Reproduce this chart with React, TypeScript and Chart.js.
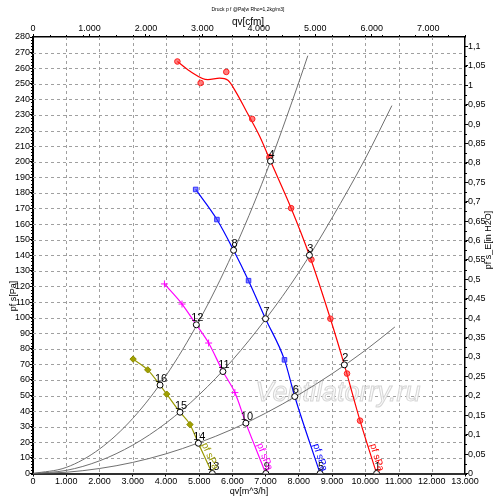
import React, { useEffect, useRef } from 'react';
import { Chart, registerables } from 'chart.js';

Chart.register(...registerables);

const FONT = '"Liberation Sans", Arial, sans-serif';

// ---- text ----
const TITLE = 'Druck p f @Pa[w Rho=1,2kg/m3]';
const X_TITLE = 'qv[m^3/h]';
const X2_TITLE = 'qv[cfm]';
const Y_TITLE = 'pf s[Pa]';
const Y2_TITLE = 'pf s_E[in H2O]';
const FAN_LABEL = 'pf sPa';
const WATERMARK = 'Ventilatorry.ru';

// ---- axes ----
const X_MAX = 13000;
const Y_MAX = 280;
const CFM_PER_M3H = 0.588578;
const PA_PER_INH2O = 249.089;
const X_TICKS = [0, 1000, 2000, 3000, 4000, 5000, 6000, 7000, 8000, 9000, 10000, 11000, 12000, 13000];
const X2_TICKS = [0, 1000, 2000, 3000, 4000, 5000, 6000, 7000];
const Y_TICKS = [0, 10, 20, 30, 40, 50, 60, 70, 80, 90, 100, 110, 120, 130, 140, 150, 160, 170, 180, 190, 200, 210, 220, 230, 240, 250, 260, 270, 280];
const Y2_TICKS = [0, 0.05, 0.1, 0.15, 0.2, 0.25, 0.3, 0.35, 0.4, 0.45, 0.5, 0.55, 0.6, 0.65, 0.7, 0.75, 0.8, 0.85, 0.9, 0.95, 1, 1.05, 1.1];

// ---- fan curves (fitted lines) ----
const RED_CURVE_Q = [4345, 4715, 5265, 5616, 5866, 6117, 6417, 6817, 7147, 7768, 8318, 8949, 9369, 9841, 10340];
const RED_CURVE_P = [264.3, 258.2, 252.6, 253.6, 252.2, 244.3, 232.5, 216.5, 200.4, 170.2, 140, 99.3, 69.7, 33.9, 0];
const BLUE_CURVE_Q = [4895, 5535, 6036, 6486, 6997, 7568, 7877, 8639];
const BLUE_CURVE_P = [182.2, 162.9, 143.2, 123.7, 99.3, 72.9, 49.4, 0];
const MAGENTA_CURVE_Q = [3955, 4484, 4915, 5285, 5715, 6075, 6406, 7006];
const MAGENTA_CURVE_P = [121.6, 108.7, 95.4, 83.7, 65.4, 51.9, 32.3, 0];
const OLIVE_CURVE_Q = [3012, 3453, 3823, 4024, 4424, 4724, 4976, 5396];
const OLIVE_CURVE_P = [73.4, 66.5, 56.7, 50.9, 39.3, 31.4, 19.4, 0];

// ---- measured markers ----
const RED_MARK_Q = [4345, 5045, 5817, 6598, 7117, 7768, 8378, 8949, 9450, 9841];
const RED_MARK_P = [264.3, 250.5, 257.6, 227.4, 203, 170.2, 137.2, 99.3, 64.1, 33.9];
const BLUE_MARK_Q = [4895, 5535, 6486, 7568];
const BLUE_MARK_P = [182.2, 162.9, 123.7, 72.9];
const MAGENTA_MARK_Q = [3955, 4484, 5285, 6075];
const MAGENTA_MARK_P = [121.6, 108.7, 83.7, 51.9];
const OLIVE_MARK_Q = [3012, 3453, 4024, 4724];
const OLIVE_MARK_P = [73.4, 66.5, 50.9, 31.4];

// ---- system curves ----
const SYS_A_Q = [0, 1000, 2000, 3000, 4000, 5000, 6000, 7000, 8000, 8270];
const SYS_A_P = [0, 3.9, 15.7, 35.3, 62.7, 98, 141, 192, 251, 268];
const SYS_B_Q = [0, 1000, 2000, 3000, 4000, 5000, 6000, 7000, 8000, 9000, 10000, 10800];
const SYS_B_P = [0, 2, 8.1, 18.2, 32.3, 50.5, 72.7, 99, 129, 164, 202, 236];
const SYS_C_Q = [0, 1000, 2000, 3000, 4000, 5000, 6000, 7000, 8000, 9000, 10000, 10890];
const SYS_C_P = [0, 0.8, 3.2, 7.1, 12.6, 19.8, 28.4, 38.7, 50.6, 64, 79, 94];

// ---- operating points ----
const OP_LABELS = ['1', '2', '3', '4', '5', '6', '7', '8', '9', '10', '11', '12', '13', '14', '15', '16'];
const OP_Q = [10340, 9369, 8318, 7147, 8639, 7877, 6997, 6036, 7006, 6406, 5715, 4915, 5396, 4976, 4424, 3823];
const OP_P = [0, 69.7, 140, 200.4, 0, 49.4, 99.3, 143.2, 0, 32.3, 65.4, 95.4, 0, 19.4, 39.3, 56.7];

const zip = (q: number[], p: number[]) => q.map((v, i) => ({ x: v, y: p[i] }));

const fmtThousands = (v: number) => {
  const n = Math.round(v);
  if (n < 1000) return String(n);
  return Math.floor(n / 1000) + '.' + String(n % 1000).padStart(3, '0');
};

const FANS = [
  { q: RED_CURVE_Q, p: RED_CURVE_P, color: '#ff0000' },
  { q: BLUE_CURVE_Q, p: BLUE_CURVE_P, color: '#0000ff' },
  { q: MAGENTA_CURVE_Q, p: MAGENTA_CURVE_P, color: '#ff00ff' },
  { q: OLIVE_CURVE_Q, p: OLIVE_CURVE_P, color: '#999900' },
];

const overlay = {
  id: 'overlay',
  beforeDatasetsDraw(chart: any) {
    const ctx = chart.ctx;
    const a = chart.chartArea;
    const xs = chart.scales.x;
    const ys = chart.scales.y;

    // dashed grid drawn as small filled dashes
    ctx.save();
    ctx.fillStyle = '#a0a0a0';
    const DASH = 3;
    const GAP = 3;
    X_TICKS.forEach((v) => {
      const x = Math.round(xs.getPixelForValue(v));
      if (x > a.left + 1 && x < a.right - 1) {
        for (let y = a.top; y < a.bottom; y += DASH + GAP) {
          ctx.fillRect(x, y, 1, Math.min(DASH, a.bottom - y));
        }
      }
    });
    Y_TICKS.forEach((v) => {
      const y = Math.round(ys.getPixelForValue(v));
      if (y > a.top + 1 && y < a.bottom - 1) {
        for (let x = a.left; x < a.right; x += DASH + GAP) {
          ctx.fillRect(x, y, Math.min(DASH, a.right - x), 1);
        }
      }
    });
    ctx.restore();

    // watermark
    ctx.save();
    ctx.font = `italic 27px ${FONT}`;
    ctx.textAlign = 'left';
    ctx.textBaseline = 'alphabetic';
    ctx.fillStyle = 'rgba(250,250,250,0.9)';
    ctx.strokeStyle = '#d6d6d6';
    ctx.lineWidth = 1;
    const wx = a.left + (a.right - a.left) * 0.515;
    const wy = a.bottom - 73;
    ctx.fillText(WATERMARK, wx, wy);
    ctx.strokeText(WATERMARK, wx, wy);
    ctx.restore();
  },
  afterDraw(chart: any) {
    const ctx = chart.ctx;
    const a = chart.chartArea;
    const xs = chart.scales.x;
    const ys = chart.scales.y;
    const y2s = chart.scales.y2;
    ctx.save();

    // minor ticks
    ctx.strokeStyle = '#000';
    ctx.lineWidth = 1;
    ctx.beginPath();
    for (let v = 0; v <= Y_MAX; v += 2) {
      const y = Math.round(ys.getPixelForValue(v)) + 0.5;
      ctx.moveTo(a.left - 2, y);
      ctx.lineTo(a.left, y);
    }
    for (let v = 0; v <= Y_MAX / PA_PER_INH2O; v += 0.025) {
      const y = Math.round(y2s.getPixelForValue(v)) + 0.5;
      ctx.moveTo(a.right, y);
      ctx.lineTo(a.right + 2, y);
    }
    for (let v = 0; v <= X_MAX; v += 500) {
      const x = Math.round(xs.getPixelForValue(v)) + 0.5;
      ctx.moveTo(x, a.top);
      ctx.lineTo(x, a.top - 2);
    }
    ctx.stroke();

    // operating point numbers
    ctx.fillStyle = '#000';
    ctx.font = `11px ${FONT}`;
    ctx.textAlign = 'center';
    ctx.textBaseline = 'bottom';
    OP_LABELS.forEach((lab, i) => {
      const x = xs.getPixelForValue(OP_Q[i]);
      const y = ys.getPixelForValue(OP_P[i]);
      ctx.fillText(lab, x + 1, y - 1);
    });

    // fan curve labels
    FANS.forEach((f) => {
      const n = f.q.length;
      const x1 = xs.getPixelForValue(f.q[n - 2]);
      const y1 = ys.getPixelForValue(f.p[n - 2]);
      const x2 = xs.getPixelForValue(f.q[n - 1]);
      const y2 = ys.getPixelForValue(f.p[n - 1]);
      const yT = a.bottom - 29;
      let t = (yT - y1) / (y2 - y1);
      t = Math.max(0, Math.min(1, t));
      const sx = x1 + t * (x2 - x1);
      const sy = y1 + t * (y2 - y1);
      const ang = Math.atan2(y2 - y1, x2 - x1);
      ctx.save();
      ctx.translate(sx, sy);
      ctx.rotate(ang);
      ctx.font = `10px ${FONT}`;
      ctx.fillStyle = f.color;
      ctx.textAlign = 'left';
      ctx.textBaseline = 'bottom';
      ctx.fillText(FAN_LABEL, 1, 0);
      ctx.restore();
    });

    // titles
    ctx.fillStyle = '#000';
    ctx.textAlign = 'center';
    ctx.textBaseline = 'middle';
    ctx.font = `5px ${FONT}`;
    ctx.fillText(TITLE, 248, 10);
    ctx.font = `10px ${FONT}`;
    ctx.fillText(X2_TITLE, 248, 22);
    ctx.font = `9px ${FONT}`;
    ctx.fillText(X_TITLE, 249, 492);

    ctx.save();
    ctx.translate(14, 296);
    ctx.rotate(-Math.PI / 2);
    ctx.font = `9px ${FONT}`;
    ctx.fillText(Y_TITLE, 0, 0);
    ctx.restore();

    ctx.save();
    ctx.translate(489, 240);
    ctx.rotate(-Math.PI / 2);
    ctx.font = `9px ${FONT}`;
    ctx.fillText(Y2_TITLE, 0, 0);
    ctx.restore();

    ctx.restore();
  },
};

export default function App() {
  const ref = useRef<HTMLCanvasElement>(null);

  useEffect(() => {
    const canvas = ref.current;
    if (!canvas) return;

    const tickFont = { family: FONT, size: 9 };
    const tickGrid = { drawOnChartArea: false, drawTicks: true, tickLength: 3, tickColor: '#000000', tickWidth: 1 };

    const sysStyle = {
      showLine: true,
      borderColor: '#707070',
      borderWidth: 1,
      pointRadius: 0,
      cubicInterpolationMode: 'monotone' as const,
    };
    const fanStyle = (c: string) => ({
      showLine: true,
      borderColor: c,
      borderWidth: 1.2,
      pointRadius: 0,
      cubicInterpolationMode: 'monotone' as const,
    });

    const chart = new Chart(canvas, {
      type: 'scatter',
      data: {
        datasets: [
          {
            label: 'points',
            data: zip(OP_Q, OP_P),
            showLine: false,
            pointStyle: 'circle',
            pointRadius: 3,
            backgroundColor: '#ffffff',
            borderColor: '#000000',
            borderWidth: 1,
          },
          {
            label: 'red marks',
            data: zip(RED_MARK_Q, RED_MARK_P),
            showLine: false,
            pointStyle: 'circle',
            pointRadius: 2.8,
            backgroundColor: 'rgba(255,40,40,0.6)',
            borderColor: '#ff2020',
            borderWidth: 1,
          },
          {
            label: 'blue marks',
            data: zip(BLUE_MARK_Q, BLUE_MARK_P),
            showLine: false,
            pointStyle: 'rect',
            pointRadius: 3.2,
            backgroundColor: 'rgba(70,70,255,0.65)',
            borderColor: '#3030ff',
            borderWidth: 1,
          },
          {
            label: 'magenta marks',
            data: zip(MAGENTA_MARK_Q, MAGENTA_MARK_P),
            showLine: false,
            pointStyle: 'cross',
            pointRadius: 3.5,
            backgroundColor: '#ff00ff',
            borderColor: '#ff00ff',
            borderWidth: 1,
          },
          {
            label: 'olive marks',
            data: zip(OLIVE_MARK_Q, OLIVE_MARK_P),
            showLine: false,
            pointStyle: 'rectRot',
            pointRadius: 3.2,
            backgroundColor: '#a0a000',
            borderColor: '#8c8c00',
            borderWidth: 1,
          },
          { label: 'red', data: zip(RED_CURVE_Q, RED_CURVE_P), ...fanStyle('#ff0000') },
          { label: 'blue', data: zip(BLUE_CURVE_Q, BLUE_CURVE_P), ...fanStyle('#0000ff') },
          { label: 'magenta', data: zip(MAGENTA_CURVE_Q, MAGENTA_CURVE_P), ...fanStyle('#ff00ff') },
          { label: 'olive', data: zip(OLIVE_CURVE_Q, OLIVE_CURVE_P), ...fanStyle('#999900') },
          { label: 'sys A', data: zip(SYS_A_Q, SYS_A_P), ...sysStyle },
          { label: 'sys B', data: zip(SYS_B_Q, SYS_B_P), ...sysStyle },
          { label: 'sys C', data: zip(SYS_C_Q, SYS_C_P), ...sysStyle },
        ],
      },
      options: {
        responsive: false,
        animation: false,
        devicePixelRatio: 1,
        layout: { padding: 0 },
        plugins: {
          legend: { display: false },
          title: { display: false },
          tooltip: { enabled: false },
        },
        scales: {
          x: {
            type: 'linear',
            position: 'bottom',
            min: 0,
            max: X_MAX,
            afterBuildTicks: (s: any) => {
              s.ticks = X_TICKS.map((v) => ({ value: v }));
            },
            afterFit: (s: any) => {
              s.height = 26.5;
              s.paddingLeft = 0;
              s.paddingRight = 0;
            },
            ticks: {
              autoSkip: false,
              maxRotation: 0,
              padding: 0,
              color: '#000',
              font: tickFont,
              callback: (v: any) => fmtThousands(Number(v)),
            },
            grid: tickGrid,
            border: { display: true, color: '#303030', width: 2 },
          },
          x2: {
            type: 'linear',
            position: 'top',
            min: 0,
            max: X_MAX * CFM_PER_M3H,
            afterBuildTicks: (s: any) => {
              s.ticks = X2_TICKS.map((v) => ({ value: v }));
            },
            afterFit: (s: any) => {
              s.height = 37;
              s.paddingLeft = 0;
              s.paddingRight = 0;
            },
            ticks: {
              autoSkip: false,
              maxRotation: 0,
              padding: 0,
              color: '#000',
              font: tickFont,
              callback: (v: any) => fmtThousands(Number(v)),
            },
            grid: tickGrid,
            border: { display: true, color: '#000', width: 1.5 },
          },
          y: {
            type: 'linear',
            position: 'left',
            min: 0,
            max: Y_MAX,
            afterBuildTicks: (s: any) => {
              s.ticks = Y_TICKS.map((v) => ({ value: v }));
            },
            afterFit: (s: any) => {
              s.width = 33;
              s.paddingTop = 0;
              s.paddingBottom = 0;
            },
            ticks: {
              autoSkip: false,
              padding: 0,
              color: '#000',
              font: tickFont,
            },
            grid: tickGrid,
            border: { display: true, color: '#000', width: 2 },
          },
          y2: {
            type: 'linear',
            position: 'right',
            min: 0,
            max: Y_MAX / PA_PER_INH2O,
            afterBuildTicks: (s: any) => {
              s.ticks = Y2_TICKS.map((v) => ({ value: v }));
            },
            afterFit: (s: any) => {
              s.width = 35;
              s.paddingTop = 0;
              s.paddingBottom = 0;
            },
            ticks: {
              autoSkip: false,
              padding: 0,
              color: '#000',
              font: tickFont,
              callback: (v: any) => String(v).replace('.', ','),
            },
            grid: tickGrid,
            border: { display: true, color: '#000', width: 1.5 },
          },
        },
      },
      plugins: [overlay],
    } as any);

    return () => chart.destroy();
  }, []);

  return (
    <div style={{ position: 'absolute', left: 0, top: 0, width: 500, height: 500, background: '#fff' }}>
      <canvas ref={ref} width={500} height={500} style={{ width: 500, height: 500, display: 'block' }} />
    </div>
  );
}
